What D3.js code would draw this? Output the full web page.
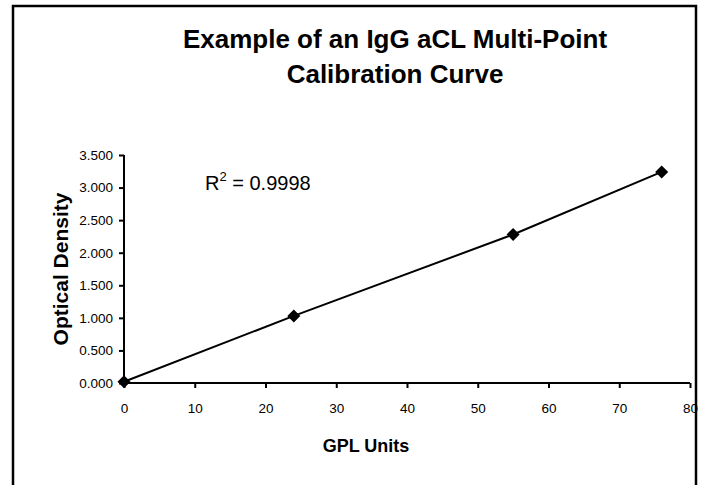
<!DOCTYPE html>
<html>
<head>
<meta charset="utf-8">
<script src="https://cdn.jsdelivr.net/npm/d3@7"></script>
<style>
body{margin:0;background:#fff;}
svg{display:block;font-family:"Liberation Sans",Arial,sans-serif;}
.tick text{font-size:13.5px;fill:#000;}
</style>
</head>
<body>
<svg id="chart" width="703" height="485"></svg>
<script>
var gplUnits = [0, 24, 55, 76];
var opticalDensity = [0.02, 1.03, 2.28, 3.24];
var xTicks = [0, 10, 20, 30, 40, 50, 60, 70, 80];
var yTicks = [0, 0.5, 1, 1.5, 2, 2.5, 3, 3.5];
var titleLines = ["Example of an IgG aCL Multi-Point", "Calibration Curve"];
var rSquared = "0.9998";

var svg = d3.select("#chart");

// outer frame (bottom edge falls outside the picture)
svg.append("path")
	.attr("d", "M13,490V6H696V490")
	.attr("fill", "none")
	.attr("stroke", "#000")
	.attr("stroke-width", 2.5);

var x = d3.scaleLinear().domain([0, 80]).range([124, 690]);
var y = d3.scaleLinear().domain([0, 3.5]).range([383, 155]);

var title = svg.append("text")
	.attr("text-anchor", "middle")
	.attr("font-weight", "bold")
	.attr("font-size", 26);
titleLines.forEach(function(t, i){
	title.append("tspan").attr("x", 395).attr("y", 48 + i*35).text(t);
});

var yAxis = svg.append("g")
	.attr("transform", "translate(" + x(0) + ",0)")
	.call(d3.axisLeft(y).tickValues(yTicks).tickSize(5).tickPadding(6).tickFormat(d3.format(".3f")));
var xAxis = svg.append("g")
	.attr("transform", "translate(0," + y(0) + ")")
	.call(d3.axisBottom(x).tickValues(xTicks).tickSize(5).tickPadding(15));

[xAxis, yAxis].forEach(function(a){
	a.attr("font-size", null).attr("font-family", null);
	a.select(".domain").attr("stroke-width", 2).attr("d", function(){ return a === xAxis ? "M" + x(0) + ",0H" + x(80) : "M0," + y(3.5) + "V" + y(0); });
	a.selectAll(".tick line").attr("stroke-width", 2);
});

var pts = gplUnits.map(function(d, i){ return [d, opticalDensity[i]]; });

svg.append("path")
	.datum(pts)
	.attr("fill", "none")
	.attr("stroke", "#000")
	.attr("stroke-width", 2)
	.attr("d", d3.line().x(function(d){ return x(d[0]); }).y(function(d){ return y(d[1]); }));

svg.selectAll(".pt")
	.data(pts)
	.enter().append("path")
	.attr("class", "pt")
	.attr("transform", function(d){ return "translate(" + x(d[0]) + "," + y(d[1]) + ")"; })
	.attr("d", "M0,-6.5L6.5,0L0,6.5L-6.5,0Z")
	.attr("fill", "#000");

var r2 = svg.append("text")
	.attr("x", 205)
	.attr("y", 190)
	.attr("font-size", 20);
r2.append("tspan").text("R");
r2.append("tspan").attr("font-size", 13).attr("dy", -9).text("2");
r2.append("tspan").attr("dy", 9).text(" = " + rSquared);

svg.append("text")
	.attr("transform", "translate(68," + y(1.75) + ") rotate(-90)")
	.attr("text-anchor", "middle")
	.attr("font-weight", "bold")
	.attr("font-size", 21)
	.text("Optical Density");

svg.append("text")
	.attr("x", 366)
	.attr("y", 452)
	.attr("text-anchor", "middle")
	.attr("font-weight", "bold")
	.attr("font-size", 18)
	.text("GPL Units");
</script>
</body>
</html>
